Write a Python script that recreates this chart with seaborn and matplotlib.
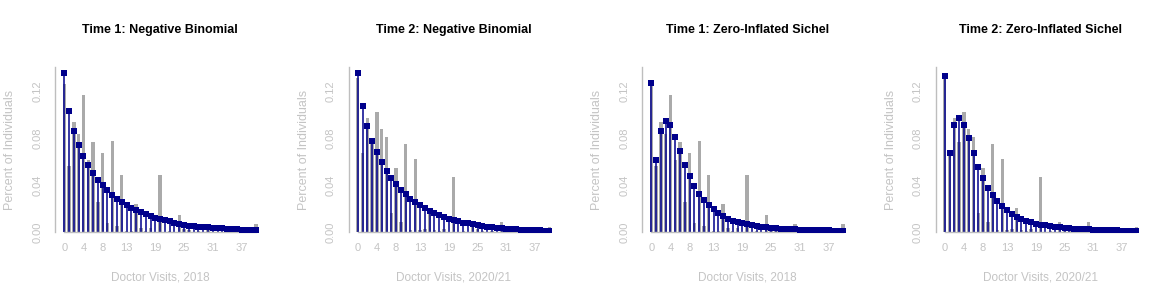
import numpy as np
import pandas as pd
import seaborn as sns
import matplotlib.pyplot as plt

# doctor visits 0..40
visits = list(range(41))

# observed proportions (grey bars)
obs_2018 = [0.126, 0.0563, 0.0936, 0.0834, 0.1166, 0.0614, 0.0767, 0.0257, 0.0673, 0.0079,
            0.0775, 0.0054, 0.0486, 0.001, 0.001, 0.024, 0.0035, 0.001, 0.004, 0.0005,
            0.0486, 0.0005, 0.001, 0.0005, 0.0144, 0.003, 0.002, 0.0, 0.001, 0.0,
            0.0068, 0.0, 0.0005, 0.0, 0.0, 0.001, 0.0, 0.0, 0.0, 0.0, 0.007]
obs_2021 = [0.131, 0.0673, 0.0971, 0.077, 0.1021, 0.0878, 0.0809, 0.0161, 0.0546, 0.0087,
            0.0751, 0.002, 0.0622, 0.002, 0.003, 0.0206, 0.002, 0.001, 0.003, 0.0005,
            0.0469, 0.0005, 0.001, 0.0005, 0.009, 0.003, 0.001, 0.0, 0.001, 0.0,
            0.0087, 0.0, 0.0005, 0.0, 0.0, 0.0005, 0.0, 0.0, 0.0, 0.0, 0.0042]

# fitted probabilities (blue stems)
nb_2018 = [0.135, 0.1027, 0.0857, 0.0738, 0.0645, 0.0569, 0.0501, 0.0444, 0.0399, 0.0359,
           0.0314, 0.028, 0.0255, 0.023, 0.0208, 0.0188, 0.017, 0.0153, 0.0138, 0.0119,
           0.011, 0.0102, 0.0093, 0.0079, 0.0071, 0.0062, 0.0057, 0.0053, 0.0048, 0.0044,
           0.0041, 0.0038, 0.0036, 0.0034, 0.0031, 0.0028, 0.0025, 0.0023, 0.0021, 0.0019, 0.0017]
nb_2021 = [0.135, 0.1069, 0.0899, 0.0772, 0.0679, 0.0593, 0.0519, 0.046, 0.0408, 0.0357,
           0.0323, 0.0283, 0.0258, 0.023, 0.0205, 0.0183, 0.0163, 0.0147, 0.0131, 0.0117,
           0.0104, 0.0093, 0.0083, 0.0075, 0.0067, 0.006, 0.0054, 0.0048, 0.0043, 0.0039,
           0.0035, 0.0031, 0.0028, 0.0025, 0.0023, 0.0021, 0.0019, 0.0017, 0.0016, 0.0015, 0.0014]
zis_2018 = [0.1265, 0.0611, 0.0857, 0.0942, 0.0908, 0.0806, 0.0688, 0.0569, 0.0475, 0.039,
            0.0323, 0.0272, 0.023, 0.0196, 0.0161, 0.0136, 0.0115, 0.0099, 0.0087, 0.0076,
            0.0068, 0.006, 0.0055, 0.0047, 0.0042, 0.0037, 0.0034, 0.0031, 0.0029, 0.0027,
            0.0025, 0.0023, 0.0021, 0.002, 0.0019, 0.0018, 0.0017, 0.0016, 0.0015, 0.0015, 0.0014]
zis_2021 = [0.1327, 0.0671, 0.0908, 0.0968, 0.0908, 0.0798, 0.0671, 0.0552, 0.0458, 0.0374,
            0.0314, 0.0263, 0.0221, 0.0187, 0.0158, 0.0133, 0.0113, 0.0097, 0.0085, 0.0074,
            0.0065, 0.0058, 0.0052, 0.0046, 0.0041, 0.0037, 0.0034, 0.0031, 0.0028, 0.0026,
            0.0024, 0.0022, 0.0021, 0.0019, 0.0018, 0.0017, 0.0016, 0.0015, 0.0014, 0.0014, 0.0013]

titles = ["Time 1: Negative Binomial", "Time 2: Negative Binomial",
          "Time 1: Zero-Inflated Sichel", "Time 2: Zero-Inflated Sichel"]
xlabels = ["Doctor Visits, 2018", "Doctor Visits, 2020/21",
           "Doctor Visits, 2018", "Doctor Visits, 2020/21"]
observed = [obs_2018, obs_2021, obs_2018, obs_2021]
fitted = [nb_2018, nb_2021, zis_2018, zis_2021]

xtick_labels = {0: "0", 4: "4", 8: "8", 13: "13", 19: "19", 25: "25", 31: "31", 37: "37"}
yticks = [0.0, 0.02, 0.04, 0.06, 0.08, 0.10, 0.12, 0.14]
ytick_labels = {0.0: "0.00", 0.04: "0.04", 0.08: "0.08", 0.12: "0.12"}

sns.set_style("white")
plt.rcParams["font.family"] = ["Liberation Sans", "DejaVu Sans"]

W, H = 1174, 301
fig = plt.figure(figsize=(W / 100, H / 100), dpi=100)

axis_grey = "#BEBEBE"
label_grey = "#C4C4C4"
blue = "#00008B"

for i in range(4):
    left = (55 + 293.5 * i) / W
    ax = fig.add_axes([left, 1 - 232.3 / H, 210.2 / W, 165 / H])

    df = pd.DataFrame({"visits": visits, "obs": observed[i], "fit": fitted[i]})

    sns.barplot(data=df, x="visits", y="obs", native_scale=True, color="#AAAAAA",
                width=0.7, saturation=1, linewidth=0, edgecolor="none", ax=ax, zorder=1)
    ax.vlines(df["visits"], 0, df["fit"], color=blue, lw=1.1, zorder=2)
    sns.scatterplot(data=df, x="visits", y="fit", marker="s", s=15, color=blue,
                    edgecolor=blue, linewidth=0, ax=ax, zorder=3)
    ax.scatter(df["visits"], df["fit"], marker="s", s=0.4, color="white",
               linewidths=0, zorder=4)

    ax.set_xlim(-1.94, 41.94)
    ax.set_ylim(0, 0.14)

    ax.set_xticks(visits)
    ax.set_xticklabels([xtick_labels.get(v, "") for v in visits])
    ax.set_yticks(yticks)
    ax.set_yticklabels([ytick_labels.get(round(v, 2), "") for v in yticks],
                       rotation=90, va="center")

    ax.tick_params(axis="both", colors=axis_grey, labelcolor=label_grey,
                   length=5, width=1, labelsize=8, direction="out")
    ax.tick_params(axis="x", pad=3)
    ax.tick_params(axis="y", pad=4)

    for s in ["top", "right"]:
        ax.spines[s].set_visible(False)
    ax.spines["left"].set_color(axis_grey)
    ax.spines["bottom"].set_color(axis_grey)
    ax.spines["bottom"].set_bounds(0, 40)
    ax.spines["left"].set_linewidth(1)
    ax.spines["bottom"].set_linewidth(1)

    ax.set_xlabel("")
    ax.set_ylabel("")
    ax.text(0.5, 1.226, titles[i], transform=ax.transAxes, ha="center", va="center",
            fontsize=9, fontweight="bold", color="black")
    ax.text(0.5, -0.271, xlabels[i], transform=ax.transAxes, ha="center", va="center",
            fontsize=8.5, color=label_grey)
    ax.text(-0.214, 0.5, "Percent of Individuals", transform=ax.transAxes, ha="center",
            va="center", rotation=90, fontsize=9, color=label_grey)

fig.savefig("out.png", dpi=100)
